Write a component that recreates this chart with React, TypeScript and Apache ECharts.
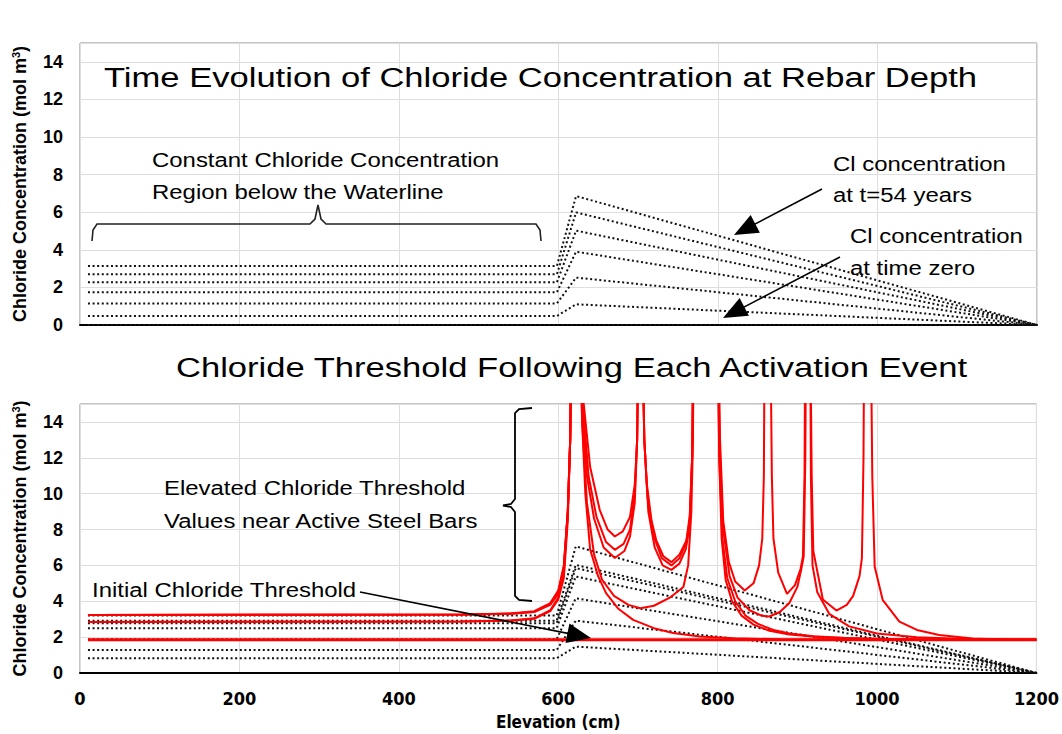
import React, { useEffect, useRef } from "react";
import * as echarts from "echarts";

const FONT = "'Liberation Sans', Arial, sans-serif";
const NARROW = "'Liberation Sans Narrow', 'DejaVu Sans Condensed', 'Liberation Sans', sans-serif";

// x ticks and elevation knots for the concentration profiles
const xTicks = [0, 200, 400, 600, 800, 1000, 1200];
const profileX = [10, 598, 622, 1200];

// Top panel: chloride concentration at rebar depth (each time step)
const topLeftLevels = [0, 0.48, 1.15, 1.74, 2.27, 2.7, 3.14];
const topPeakLevels = [0, 1.1, 2.52, 3.9, 5.02, 5.99, 6.86];

// Bottom panel: concentration profiles (dotted)
const botLeftLevels = [0.82, 1.28, 1.88, 2.5, 2.78, 2.92, 3.2];
const botPeakLevels = [1.47, 2.92, 4.17, 5.38, 5.85, 6.03, 7.06];

// Bottom panel: chloride thresholds (red), [elevation, value]
const thresholdInitial = [[10, 1.85], [1200, 1.85]];

const thresholdEvent1 = [
  [10, 2.85], [480, 2.87], [540, 2.92], [570, 3.02], [590, 3.45], [600, 4.1], [607, 5.3], [612, 8.5], [615, 13], [617, 20],
  [627, 20], [630, 14], [634, 10], [640, 6.9], [650, 5.4], [660, 4.45], [675, 3.6], [694, 2.96], [720, 2.5], [744, 2.23],
  [778, 2.03], [820, 1.94], [880, 1.88], [960, 1.86], [1200, 1.85],
];

const thresholdEvent2 = [
  [10, 2.85], [480, 2.87], [540, 2.93], [570, 3.05], [590, 3.5], [600, 4.2], [607, 5.5], [612, 9], [615, 13], [617, 20],
  [627, 20], [630, 14], [636, 9.5], [645, 6.6], [655, 5.2], [670, 4.3], [688, 3.8], [703, 3.61], [720, 3.75], [740, 4.2],
  [757, 4.8], [763, 6], [767, 9], [769, 13], [770, 20],
  [800, 20], [802, 12], [805, 7.5], [810, 5.2], [818, 4.0], [830, 3.2], [845, 2.7], [865, 2.35], [890, 2.15], [930, 2.0],
  [980, 1.92], [1050, 1.87], [1200, 1.85],
];

const thresholdEvent3 = [
  [10, 3.24], [480, 3.26], [540, 3.3], [570, 3.4], [590, 3.8], [600, 4.4], [607, 5.8], [612, 9], [615, 13], [617, 20],
  [627, 20], [630, 15], [636, 11], [645, 8.6], [657, 7.0], [671, 6.41], [683, 6.8], [690, 7.6], [696, 9.5], [699, 13], [701, 20],
  [705, 20], [708, 13], [713, 9.0], [721, 7.0], [731, 6.0], [742, 5.75], [752, 6.1], [760, 6.9], [765, 8.2], [768, 12], [770, 20],
  [800, 20], [802, 12], [806, 7.5], [812, 5.3], [822, 4.0], [835, 3.2], [850, 2.75], [870, 2.4], [890, 2.2], [920, 2.05],
  [960, 1.95], [1020, 1.88], [1200, 1.85],
];

const thresholdEvent4 = [
  [10, 3.24], [480, 3.26], [540, 3.3], [570, 3.42], [590, 3.85], [600, 4.5], [607, 5.9], [612, 9], [615, 13], [617, 20],
  [627, 20], [631, 15], [638, 11], [648, 8.7], [660, 7.3], [671, 6.87], [682, 7.2], [690, 8.0], [696, 10], [699, 13], [701, 20],
  [705, 20], [708, 13], [712, 9.8], [720, 7.6], [730, 6.4], [742, 6.0], [752, 6.4], [760, 7.2], [765, 8.5], [768, 12], [770, 20],
  [800, 20], [803, 12], [807, 8.0], [815, 5.4], [825, 4.2], [840, 3.5], [855, 3.2], [865, 3.15], [878, 3.4], [890, 3.9],
  [900, 4.8], [905, 5.8], [908, 6.5], [910, 12], [911, 20],
  [916, 20], [917, 11], [919, 6.0], [925, 4.5], [940, 3.3], [965, 2.6], [1000, 2.2], [1050, 2.0], [1120, 1.88], [1200, 1.85],
];

const thresholdEvent5 = [
  [10, 3.24], [480, 3.26], [540, 3.32], [570, 3.45], [590, 3.9], [600, 4.6], [607, 6], [612, 9], [615, 13], [617, 20],
  [627, 20], [632, 15], [640, 11.5], [652, 9.1], [662, 8.0], [671, 7.61], [681, 7.9], [690, 8.7], [696, 10.5], [699, 13], [701, 20],
  [705, 20], [708, 13], [711, 10.6], [717, 8.5], [723, 7.4], [732, 6.5], [742, 6.18], [752, 6.6], [761, 7.4], [765, 8.8], [768, 12], [770, 20],
  [800, 20], [803, 13], [807, 8.5], [814, 6.2], [822, 5.1], [834, 4.6], [845, 5.0], [852, 6.0], [856, 7.5], [858, 11], [859, 20],
  [866, 20], [868, 11], [870, 7.5], [876, 5.6], [887, 4.41], [897, 4.9], [904, 5.8], [907, 6.5], [909, 11], [910, 20],
  [916, 20], [918, 11], [920, 6.8], [932, 4.1], [949, 3.48], [962, 3.8], [970, 4.3], [978, 5.4], [981, 6.4], [983, 12], [984, 20],
  [992, 20], [994, 11], [997, 5.94], [1007, 4.08], [1028, 2.87], [1050, 2.4], [1078, 2.12], [1120, 1.92], [1160, 1.87], [1200, 1.85],
];

const thresholdCurves = [thresholdEvent1, thresholdEvent2, thresholdEvent3, thresholdEvent4, thresholdEvent5];

function profile(left: number, peak: number) {
  return [
    [profileX[0], left],
    [profileX[1], left],
    [profileX[2], peak],
    [profileX[3], 0],
  ];
}

function arrowHead(x1: number, y1: number, x2: number, y2: number, len = 24, half = 10) {
  const dx = x2 - x1;
  const dy = y2 - y1;
  const d = Math.sqrt(dx * dx + dy * dy);
  const ux = dx / d;
  const uy = dy / d;
  const bx = x2 - ux * len;
  const by = y2 - uy * len;
  return [
    [x2, y2],
    [bx - uy * half, by + ux * half],
    [bx + uy * half, by - ux * half],
  ];
}

function arrow(x1: number, y1: number, x2: number, y2: number): any[] {
  const head = arrowHead(x1, y1, x2, y2);
  const dx = x2 - x1;
  const dy = y2 - y1;
  const d = Math.sqrt(dx * dx + dy * dy);
  return [
    {
      type: "line",
      shape: { x1, y1, x2: x2 - (dx / d) * 16, y2: y2 - (dy / d) * 16 },
      style: { stroke: "#000", lineWidth: 1.6 },
      z: 10,
    },
    { type: "polygon", shape: { points: head }, style: { fill: "#000" }, z: 10 },
  ];
}

function txt(x: number, y: number, text: string, size: number, sx: number): any {
  return {
    type: "text",
    x,
    y,
    scaleX: sx,
    z: 10,
    style: { text, font: `${size}px ${FONT}`, fill: "#000", align: "left", verticalAlign: "middle" },
  };
}

const yName = "{a|Chloride Concentration (mol m}{s|3}{a|)}";
const yNameStyle = {
  rich: {
    a: { fontSize: 18, fontWeight: "bold", fontFamily: FONT, color: "#000", lineHeight: 20 },
    s: { fontSize: 11, fontWeight: "bold", fontFamily: FONT, color: "#000", lineHeight: 20, verticalAlign: "top" },
  },
};

function yAxisFor(gridIndex: number): any {
  return {
    gridIndex,
    type: "value",
    min: 0,
    max: 15,
    interval: 2,
    name: yName,
    nameLocation: "middle",
    nameGap: 50,
    nameTextStyle: yNameStyle,
    axisLine: { show: false },
    axisTick: { show: false },
    axisLabel: { showMaxLabel: false, fontSize: 18, fontWeight: "bold", fontFamily: FONT, color: "#000", margin: 17 },
    splitLine: { lineStyle: { color: "#dedede", width: 1 } },
  };
}

export default function App() {
  const ref = useRef<HTMLDivElement>(null);
  useEffect(() => {
    if (!ref.current) return;
    const chart = echarts.init(ref.current, null, { renderer: "svg" });

    const series: any[] = [];
    topLeftLevels.forEach((l, i) => {
      series.push({
        type: "line",
        xAxisIndex: 0,
        yAxisIndex: 0,
        data: profile(l, topPeakLevels[i]),
        symbol: "none",
        lineStyle: { color: "#111", width: 2, type: [2, 2.6] },
        z: 2,
      });
    });
    botLeftLevels.forEach((l, i) => {
      series.push({
        type: "line",
        xAxisIndex: 1,
        yAxisIndex: 1,
        data: profile(l, botPeakLevels[i]),
        symbol: "none",
        lineStyle: { color: "#111", width: 2, type: [2, 2.6] },
        z: 2,
      });
    });
    series.push({
      type: "line",
      xAxisIndex: 1,
      yAxisIndex: 1,
      data: thresholdInitial,
      symbol: "none",
      lineStyle: { color: "#ff0000", width: 3 },
      z: 3,
    });
    thresholdCurves.forEach((c) => {
      series.push({
        type: "line",
        xAxisIndex: 1,
        yAxisIndex: 1,
        data: c,
        symbol: "none",
        clip: true,
        lineStyle: { color: "#ff0000", width: 2 },
        z: 3,
      });
    });

    const T = 1.235;
    const A = 1.14;
    const graphics: any[] = [
      txt(104, 78, "Time Evolution of Chloride Concentration at Rebar Depth", 28, T),
      txt(152, 160, "Constant Chloride Concentration", 21, A),
      txt(152, 192, "Region below the Waterline", 21, A),
      txt(833, 164, "Cl concentration", 21, A),
      txt(833, 195, "at t=54 years", 21, A),
      txt(850, 236, "Cl concentration", 21, A),
      txt(850, 268, "at time zero", 21, A),
      txt(176, 368, "Chloride Threshold Following Each Activation Event", 28, T),
      txt(164, 488, "Elevated Chloride Threshold", 21, A),
      txt(164, 521, "Values near Active Steel Bars", 21, A),
      txt(92, 590, "Initial Chloride Threshold", 21, A),
      {
        type: "polyline",
        z: 10,
        shape: {
          points: [
            [92, 241], [93, 230], [97, 224], [310, 224], [315, 219], [318, 205], [321, 219], [326, 224],
            [536, 224], [540, 230], [541, 241],
          ],
        },
        style: { stroke: "#222", lineWidth: 1.6, fill: null },
      },
      {
        type: "polyline",
        z: 10,
        shape: {
          points: [
            [532, 408], [519, 409], [515, 413], [515, 499], [511, 504], [503, 505.5], [511, 507], [515, 512],
            [515, 596], [519, 600], [532, 601],
          ],
        },
        style: { stroke: "#000", lineWidth: 1.8, fill: null },
      },
      ...arrow(822, 189, 734, 235),
      ...arrow(840, 257, 723, 318),
      ...arrow(360, 592, 591, 638),
    ];

    const option: any = {
      animation: false,
      backgroundColor: "#ffffff",
      textStyle: { fontFamily: FONT },
      grid: [
        { left: 80, top: 43, width: 957, height: 282, show: true, borderColor: "#8a8a8a", borderWidth: 1 },
        { left: 80, top: 404, width: 957, height: 269, show: true, borderColor: "#8a8a8a", borderWidth: 1 },
      ],
      xAxis: [
        {
          gridIndex: 0,
          type: "value",
          min: xTicks[0],
          max: xTicks[xTicks.length - 1],
          interval: 200,
          axisLabel: { show: false },
          axisTick: { show: false },
          axisLine: { show: true, lineStyle: { color: "#000", width: 2 } },
          splitLine: { lineStyle: { color: "#dedede", width: 1 } },
        },
        {
          gridIndex: 1,
          type: "value",
          min: xTicks[0],
          max: xTicks[xTicks.length - 1],
          interval: 200,
          name: "Elevation (cm)",
          nameLocation: "middle",
          nameGap: 40,
          nameTextStyle: { fontSize: 17, fontWeight: "bold", fontFamily: NARROW, color: "#000" },
          axisLabel: {
            fontSize: 18,
            fontWeight: "bold",
            fontFamily: NARROW,
            color: "#000",
            margin: 16,
            formatter: (v: number) => String(v),
          },
          axisTick: { show: false },
          axisLine: { show: true, lineStyle: { color: "#000", width: 2 } },
          splitLine: { lineStyle: { color: "#dedede", width: 1 } },
        },
      ],
      yAxis: [yAxisFor(0), yAxisFor(1)],
      series,
      graphic: graphics,
    };
    chart.setOption(option);
    return () => chart.dispose();
  }, []);

  return (
    <div
      ref={ref}
      style={{ position: "fixed", left: 0, top: 0, width: 1062, height: 734, background: "#fff" }}
    />
  );
}
